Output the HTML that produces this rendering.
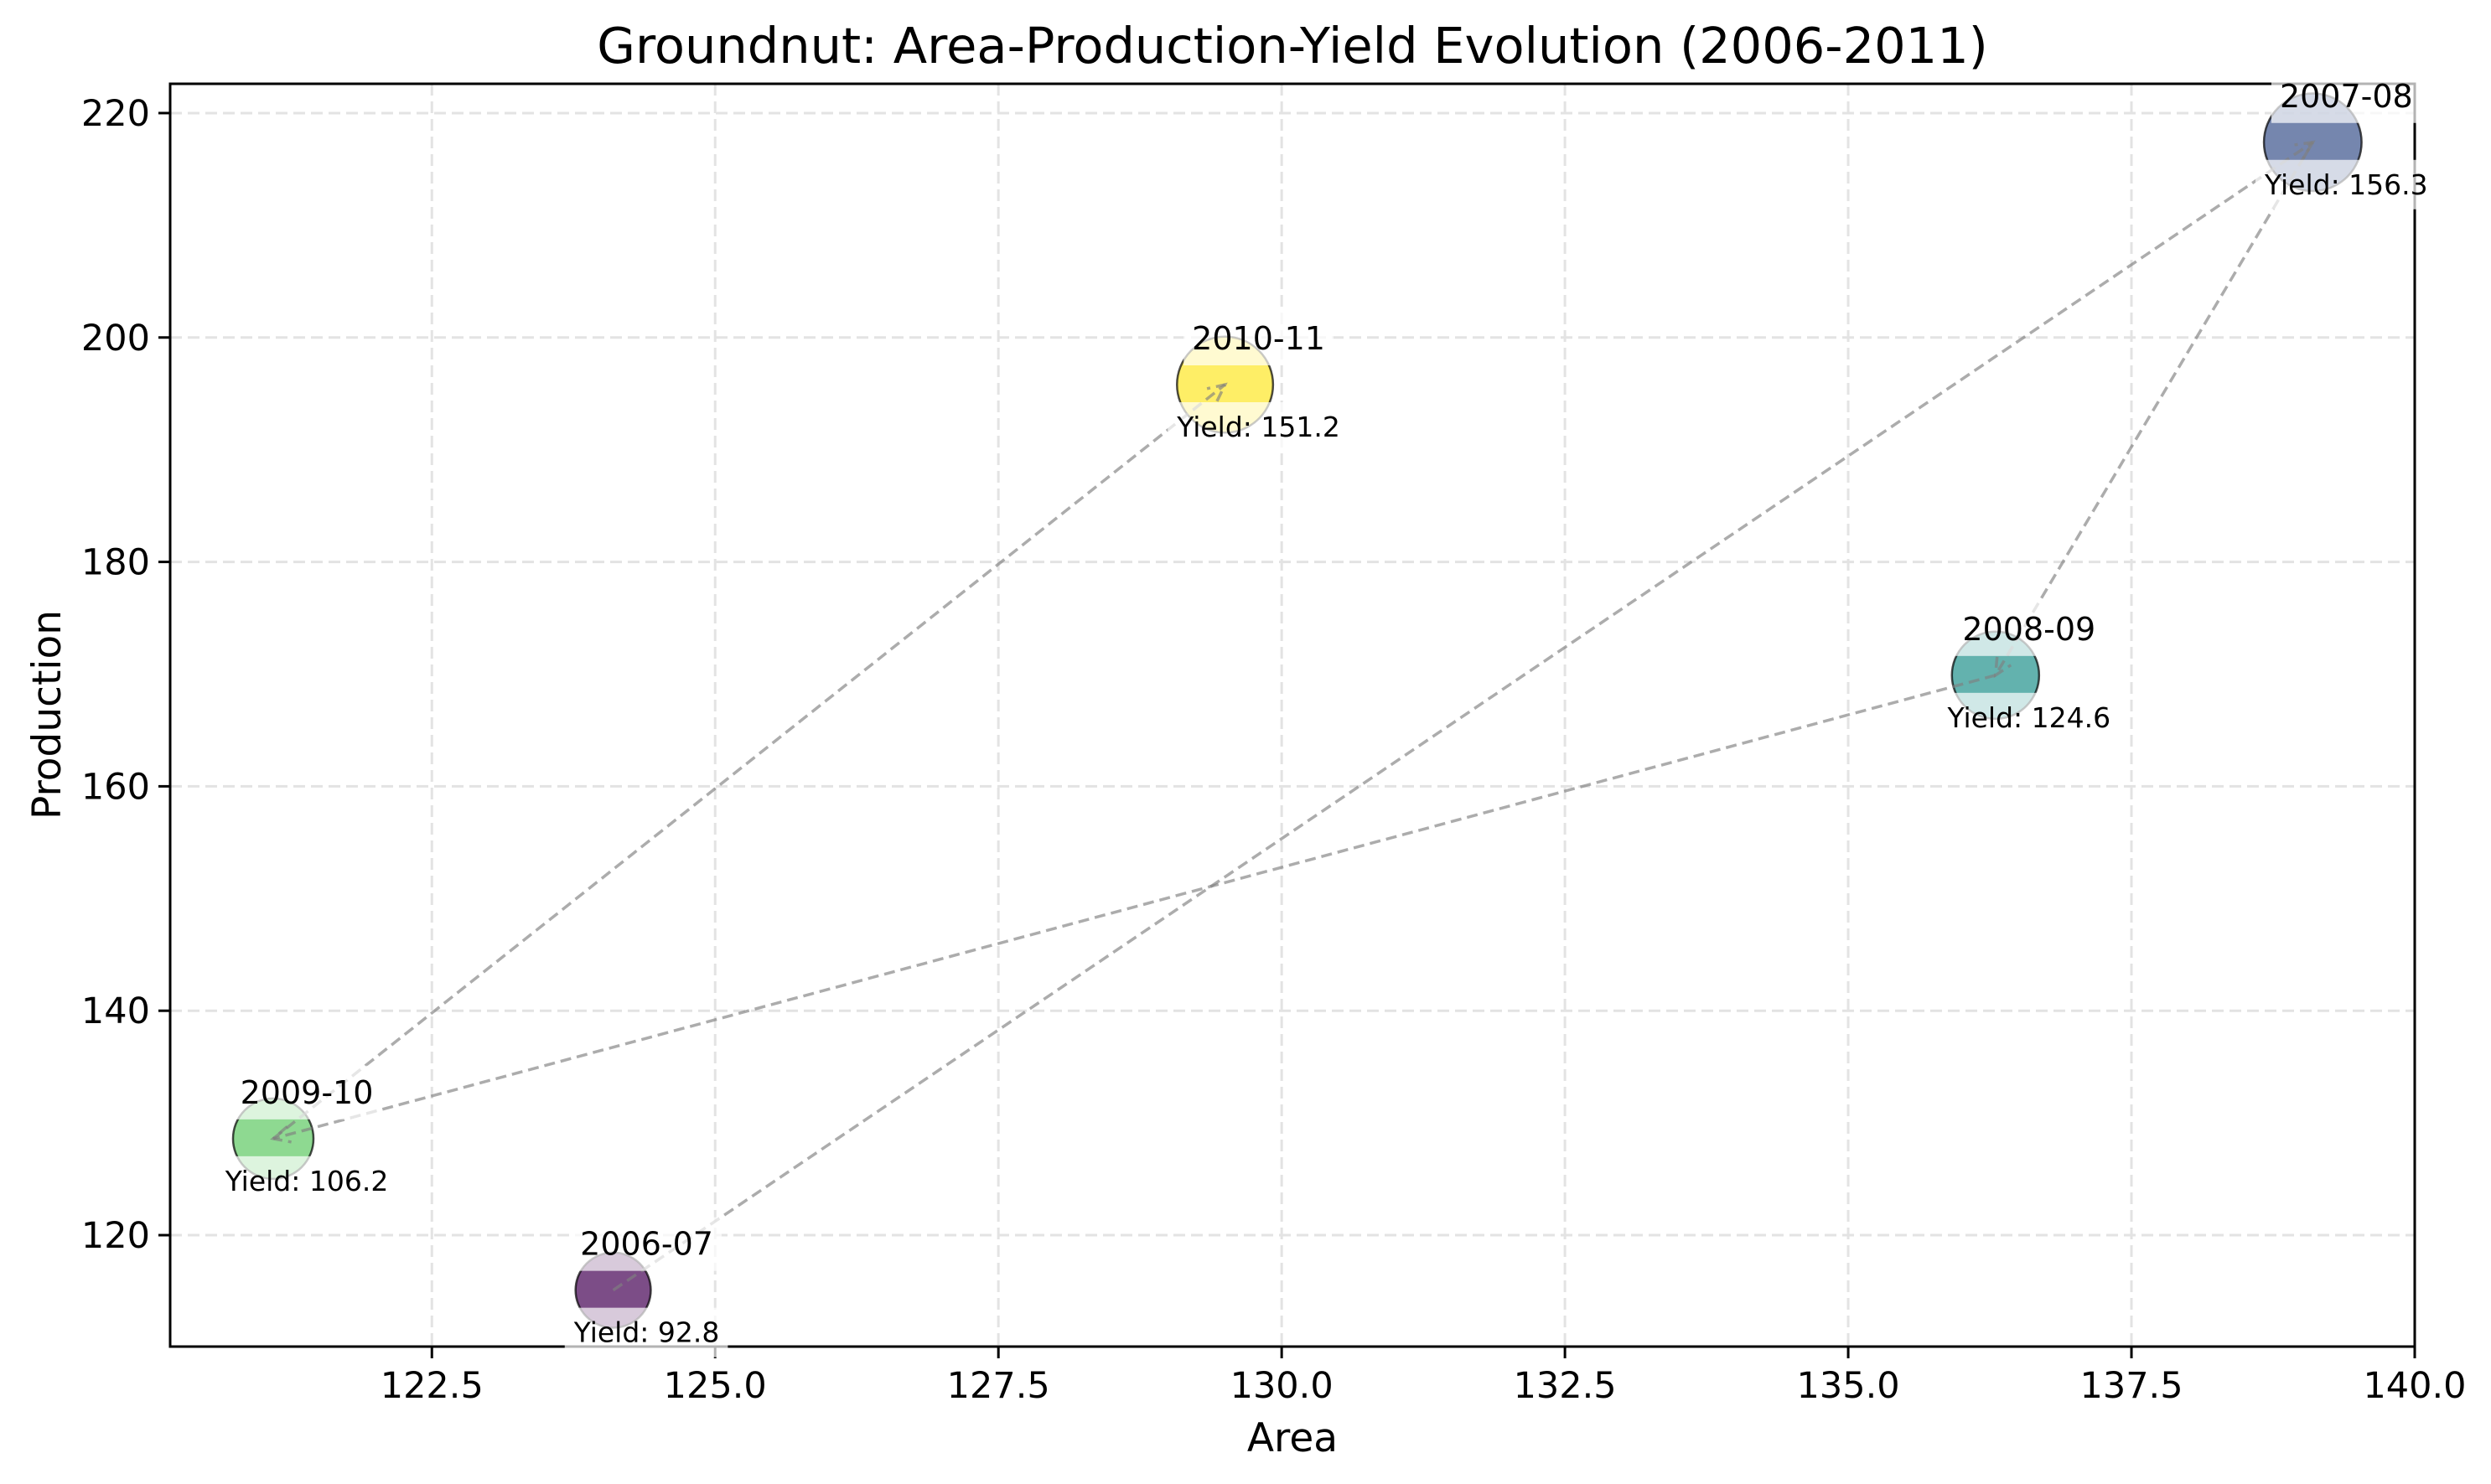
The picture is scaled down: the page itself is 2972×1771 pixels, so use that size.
<!DOCTYPE html>
<html><head><meta charset="utf-8"><style>
html,body{margin:0;padding:0;background:#fff;}
svg{display:block;font-family:"DejaVu Sans","Liberation Sans",sans-serif;}
</style></head><body>
<svg id="chart" width="2972" height="1771" viewBox="0 0 2972 1771" xmlns="http://www.w3.org/2000/svg">
<rect width="2972" height="1771" fill="#fff"/>
<text x="1542" y="75" font-size="59" text-anchor="middle">Groundnut: Area-Production-Yield Evolution (2006-2011)</text>
<text x="1542" y="1732" font-size="47" text-anchor="middle">Area</text>
<text x="0" y="0" font-size="47" text-anchor="middle" transform="translate(72,853) rotate(-90)">Production</text>
<g id="grid"></g>
<g id="ticks"></g>
<g id="bubbles"></g>
<g id="arrows"></g>
<rect x="203" y="100" width="2678" height="1507" fill="none" stroke="#000" stroke-width="3"/>
<g id="labels"></g>
</svg>
<script>
const years = ["2006-07","2007-08","2008-09","2009-10","2010-11"];
const areaVals = [124.1, 139.1, 136.3, 121.1, 129.5];
const prodVals = [115.1, 217.4, 169.9, 128.6, 195.8];
const yieldVals = [92.8, 156.3, 124.6, 106.2, 151.2];
const xTicks = [122.5,125.0,127.5,130.0,132.5,135.0,137.5,140.0];
const yTicks = [120,140,160,180,200,220];
const colors = ["#440154","#3b528b","#21918c","#5ec962","#fde725"];

const L=203,R=2881,T=100,B=1607;
const X0=120.19,X1=140.0,Y0=110.07,Y1=222.61;
const sx=v=>L+(v-X0)/(X1-X0)*(R-L);
const sy=v=>B-(v-Y0)/(Y1-Y0)*(B-T);
const NS="http://www.w3.org/2000/svg";
function mk(tag,attrs,parent){const e=document.createElementNS(NS,tag);for(const k in attrs)e.setAttribute(k,attrs[k]);parent.appendChild(e);return e;}
const grid=document.getElementById('grid'),ticks=document.getElementById('ticks');
xTicks.forEach(t=>{const x=sx(t);
 const g=mk('line',{x1:x,x2:x,y1:T,y2:B,stroke:'#e3e3e3','stroke-width':3,'stroke-dasharray':'14,7'},grid);
 
 
 const tk=mk('line',{x1:x,x2:x,y1:B,y2:B+14,stroke:'#000','stroke-width':3},ticks);
 
 
 const tl=mk('text',{x:x,y:1668,'font-size':43,'text-anchor':'middle'},ticks);tl.textContent=t.toFixed(1);
 
 
});
yTicks.forEach(t=>{const y=sy(t);
 const g=mk('line',{x1:L,x2:R,y1:y,y2:y,stroke:'#e3e3e3','stroke-width':3,'stroke-dasharray':'14,7'},grid);
 
 
 const tk=mk('line',{x1:L-14,x2:L,y1:y,y2:y,stroke:'#000','stroke-width':3},ticks);
 
 
 const tl=mk('text',{x:L-24,y:y+15,'font-size':43,'text-anchor':'end'},ticks);tl.textContent=String(t);
 
 
});
const bub=document.getElementById('bubbles'),arr=document.getElementById('arrows'),lab=document.getElementById('labels');
years.forEach((yr,i)=>{
 const c=mk('circle',{cx:sx(areaVals[i]),cy:sy(prodVals[i]),r:4.66*Math.sqrt(yieldVals[i]),fill:colors[i],'fill-opacity':0.7,stroke:'#000','stroke-opacity':0.7,'stroke-width':2.5},bub);
 
 
});
for(let i=0;i<years.length-1;i++){
 const x1=sx(areaVals[i]),y1=sy(prodVals[i]),x2=sx(areaVals[i+1]),y2=sy(prodVals[i+1]);
 const g=mk('g',{stroke:'#808080','stroke-opacity':0.65,'stroke-width':3.5,fill:'none'},arr);
 
 
 mk('line',{x1:x1,y1:y1,x2:x2,y2:y2,'stroke-dasharray':'13,7'},g);
 const a=Math.atan2(y2-y1,x2-x1),h=22,w=0.45;
 mk('path',{d:`M${x2-h*Math.cos(a-w)},${y2-h*Math.sin(a-w)} L${x2},${y2} L${x2-h*Math.cos(a+w)},${y2-h*Math.sin(a+w)}`,'stroke-dasharray':'13,7'},g);
}
years.forEach((yr,i)=>{
 const cx=sx(areaVals[i])+40,cy=sy(prodVals[i]);
 [[yr,cy-42,38,'year-label'],['Yield: '+yieldVals[i].toFixed(1),cy+62,33,'yield-label']].forEach(([txt,by,fs,nm])=>{
  const g=mk('g',{},lab);
  
  
  const r=mk('rect',{fill:'#fff','fill-opacity':0.7},g);
  const t=mk('text',{x:cx,y:by,'font-size':fs,'text-anchor':'middle'},g);t.textContent=txt;
  const bb=t.getBBox();const p=10;
  r.setAttribute('x',bb.x-p);r.setAttribute('y',bb.y-p);r.setAttribute('width',bb.width+2*p);r.setAttribute('height',bb.height+2*p);
 });
});
</script>
</body></html>
